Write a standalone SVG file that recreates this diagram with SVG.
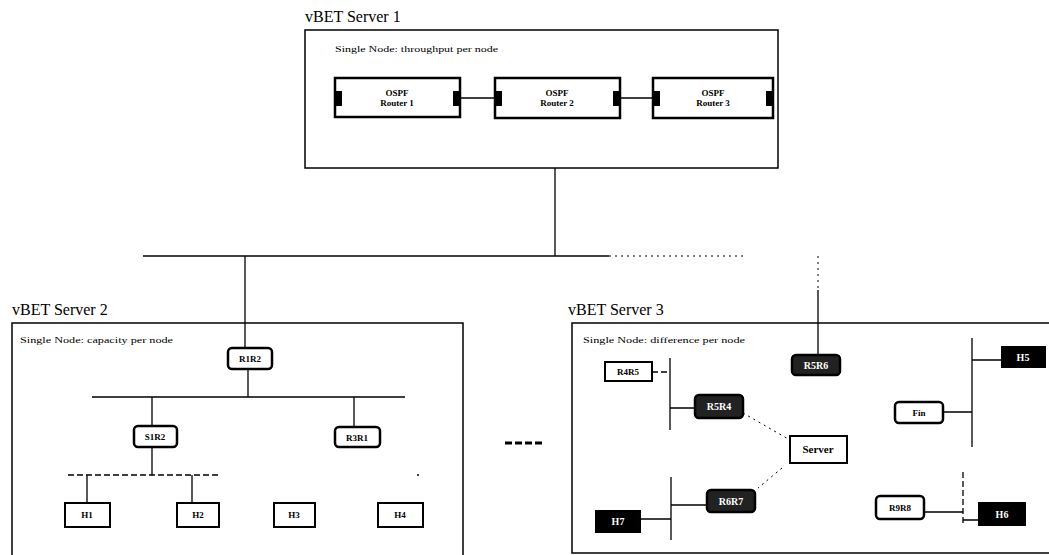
<svg xmlns="http://www.w3.org/2000/svg" width="1049" height="555" viewBox="0 0 1049 555">
<style>
.title{font-family:"Liberation Serif","Times New Roman",serif;font-size:16px;fill:#000}
.cap{font-family:"Liberation Serif",serif;font-size:8px;fill:#000}
.frame{fill:#fff;stroke:#000;stroke-width:1.5}
.ospf{fill:#fff;stroke:#000;stroke-width:2.5}
.port{fill:#000}
.rt{fill:#fff;stroke:#000;stroke-width:2.5}
.rtd{fill:#222;stroke:#000;stroke-width:2.5}
.host{fill:#fff;stroke:#000;stroke-width:2}
.hostd{fill:#000;stroke:#000;stroke-width:2}
.lbl{font-family:"Liberation Serif",serif;font-size:9px;font-weight:bold;fill:#000;text-anchor:middle}
.lblw{font-family:"Liberation Serif",serif;font-size:10px;font-weight:bold;fill:#fff;text-anchor:middle}
.ln{stroke:#000;stroke-width:1.3;fill:none}
.dash{stroke:#000;stroke-width:1.3;fill:none;stroke-dasharray:6 3}
.dot{stroke:#000;stroke-width:1;fill:none;stroke-dasharray:2 4}
</style>
<rect width="1049" height="555" fill="#fff"/>

<g id="server1">
<text class="title" x="305" y="22">vBET Server 1</text>
<rect class="frame" x="305" y="30" width="473" height="138"/>
<text class="cap" x="335" y="52" textLength="163" lengthAdjust="spacingAndGlyphs">Single Node: throughput per node</text>
</g>
<g id="ospf1">
<rect class="ospf" x="335" y="78" width="125" height="39"/>
<rect class="port" x="335" y="91" width="7" height="15"/><rect class="port" x="453" y="91" width="7" height="15"/>
<text class="lbl" x="397" y="96">OSPF</text><text class="lbl" x="397" y="106">Router 1</text>
</g>
<g id="ospf2">
<rect class="ospf" x="495" y="78" width="125" height="40"/>
<rect class="port" x="495" y="91" width="7" height="15"/><rect class="port" x="613" y="91" width="7" height="15"/>
<text class="lbl" x="557" y="96">OSPF</text><text class="lbl" x="557" y="106">Router 2</text>
</g>
<g id="ospf3">
<rect class="ospf" x="653" y="78" width="120" height="40"/>
<rect class="port" x="653" y="91" width="7" height="15"/><rect class="port" x="766" y="91" width="7" height="15"/>
<text class="lbl" x="713" y="96">OSPF</text><text class="lbl" x="713" y="106">Router 3</text>
</g>

<g id="server2">
<text class="title" x="12" y="315">vBET Server 2</text>
<rect class="frame" x="12" y="323" width="451" height="240"/>
<text class="cap" x="20" y="343" textLength="153" lengthAdjust="spacingAndGlyphs">Single Node: capacity per node</text>
</g>
<g id="r2top"><rect class="rt" x="228" y="348" width="44" height="21" rx="4"/><text class="lbl" x="250" y="362">R1R2</text></g>
<g id="r2left"><rect class="rt" x="134" y="426" width="43" height="21" rx="4"/><text class="lbl" x="155" y="440">S1R2</text></g>
<g id="r2right"><rect class="rt" x="335" y="427" width="45" height="20" rx="4"/><text class="lbl" x="357" y="441">R3R1</text></g>
<g id="h1"><rect class="host" x="65" y="503" width="45" height="24"/><text class="lbl" x="87" y="518">H1</text></g>
<g id="h2"><rect class="host" x="177" y="503" width="42" height="24"/><text class="lbl" x="198" y="518">H2</text></g>
<g id="h3"><rect class="host" x="274" y="503" width="41" height="24"/><text class="lbl" x="294" y="518">H3</text></g>
<g id="h4"><rect class="host" x="378" y="503" width="45" height="24"/><text class="lbl" x="400" y="518">H4</text></g>

<g id="server3">
<text class="title" x="568" y="315">vBET Server 3</text>
<rect class="frame" x="572" y="323" width="490" height="230"/>
<text class="cap" x="583" y="343" textLength="162" lengthAdjust="spacingAndGlyphs">Single Node: difference per node</text>
</g>
<g id="r3top"><rect class="rtd" x="792" y="355" width="48" height="20" rx="4"/><text class="lblw" x="816" y="369">R5R6</text></g>
<g id="sw3"><rect class="host" x="605" y="362" width="47" height="19"/><text class="lbl" x="628" y="375">R4R5</text></g>
<g id="r3a"><rect class="rtd" x="695" y="395" width="48" height="23" rx="4"/><text class="lblw" x="719" y="410">R5R4</text></g>
<g id="srv"><rect class="host" x="790" y="436" width="57" height="27"/><text class="lbl" x="818" y="453" style="font-size:11px">Server</text></g>
<g id="r3b"><rect class="rtd" x="707" y="490" width="48" height="22" rx="4"/><text class="lblw" x="731" y="505">R6R7</text></g>
<g id="h7"><rect class="hostd" x="596" y="511" width="44" height="21"/><text class="lblw" x="618" y="525">H7</text></g>
<g id="h5"><rect class="hostd" x="1002" y="347" width="43" height="20"/><text class="lblw" x="1023" y="361">H5</text></g>
<g id="rfin"><rect class="rt" x="895" y="402" width="48" height="21" rx="4"/><text class="lbl" x="919" y="416">Fin</text></g>
<g id="r3c"><rect class="rt" x="876" y="496" width="48" height="23" rx="4"/><text class="lbl" x="900" y="511">R9R8</text></g>
<g id="h6"><rect class="hostd" x="979" y="503" width="46" height="22"/><text class="lblw" x="1002" y="518">H6</text></g>

<g id="ellipsis">
<path d="M505 443h7M515 443h7M525 443h7M535 443h7" stroke="#000" stroke-width="3"/>
</g>

<g id="connectors">
<path class="ln" d="M460 98H495M620 98H653"/>
<path class="ln" d="M555 168V256"/>
<path class="ln" d="M143 256H609"/>
<path class="dot" d="M609 256H745"/>
<path class="ln" d="M245 256V348"/>
<path class="dot" d="M818 256V290"/>
<path class="ln" d="M818 290V355"/>
<path class="ln" d="M248 369V397M92 397H405M152 397V426M354 397V427"/>
<path class="ln" d="M152 447V475"/>
<path class="dash" d="M68 475H220"/>
<path class="ln" d="M87 475V503M192 475V503"/>
<circle cx="418" cy="475" r="1" fill="#000"/>
<path class="dash" d="M652 372H670"/>
<path class="ln" d="M670 358V430M670 408H695"/>
<path class="dot" d="M743 413L790 440"/>
<path class="dot" d="M782 468L758 488"/>
<path class="ln" d="M671 477V540M671 505H707M640 519H671"/>
<path class="ln" d="M972 338V447M972 360H1002M943 412H972"/>
<path class="dash" d="M963 472V525"/>
<path class="ln" d="M924 512H963M963 520H979"/>
</g>
</svg>
